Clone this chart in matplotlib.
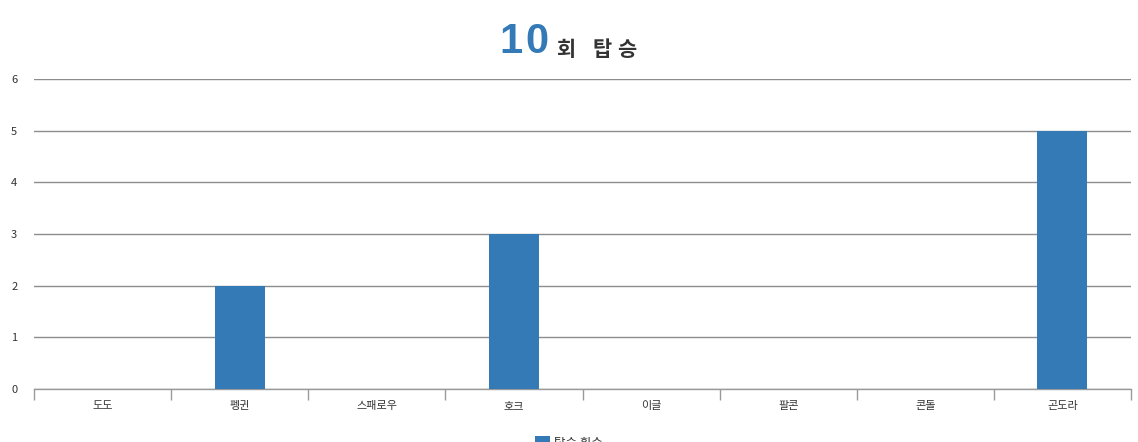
import matplotlib
matplotlib.use("Agg")
import matplotlib.pyplot as plt
from matplotlib.patches import Patch
import numpy as np

plt.rcParams['font.family'] = ['Noto Sans CJK KR', 'DejaVu Sans']

categories = ['도도', '펭귄', '스패로우', '호크', '이글', '팔콘', '콘돌', '곤도라']
rides = [0, 2, 0, 3, 0, 0, 0, 5]
series_name = '탑승 횟수'
title_count = '10'
title_rest = '회 탑승'

BLUE = '#337ab7'
TEXT = '#333333'

fig = plt.figure(figsize=(11.38, 4.42), dpi=100)
W, H = 1138, 442
ax = fig.add_axes([34 / W, 53 / H, (1131 - 34) / W, (389 - 79) / H])

x = np.arange(len(categories))
ax.bar(x, rides, width=0.365, color=BLUE, zorder=3)

ax.set_xlim(-0.5, len(categories) - 0.5)
ax.set_ylim(0, 6)
ax.set_yticks(range(0, 7))
ax.yaxis.grid(True, color='#8c8c8c', linewidth=1)
ax.set_axisbelow(True)

for s in ['top', 'right', 'left']:
    ax.spines[s].set_visible(False)
ax.spines['bottom'].set_color('#9a9a9a')
ax.spines['bottom'].set_linewidth(1)

ax.set_xticks(x)
ax.set_xticklabels(categories)
ax.set_xticks(np.arange(-0.5, len(categories)), minor=True)
ax.tick_params(axis='x', which='major', length=0, pad=9, labelsize=8, labelcolor=TEXT)
ax.tick_params(axis='x', which='minor', length=8, color='#9a9a9a', width=1)
ax.tick_params(axis='y', length=0, labelsize=8, labelcolor=TEXT)
for lab in ax.get_yticklabels():
    lab.set_horizontalalignment('left')
ax.yaxis.set_tick_params(pad=16.5)

# Title: large blue count (letter-spaced), then spaced Korean text
tfont = ['Liberation Sans', 'DejaVu Sans']
base_y = 1 - 53 / H
for ch, px in zip(title_count, [499, 525]):
    fig.text(px / W, base_y, ch, color=BLUE, fontsize=30, fontweight='bold',
             ha='left', va='baseline', family=tfont)
rest_chars = [c for c in title_rest if c != ' ']
for ch, px in zip(rest_chars, [556, 593, 617]):
    fig.text(px / W, 1 - 56 / H, ch, color=TEXT, fontsize=15, fontweight='bold',
             ha='left', va='baseline')

# Legend (partially cut off at bottom)
fig.legend(handles=[Patch(facecolor=BLUE, edgecolor='none')], labels=[series_name],
           loc='center', bbox_to_anchor=(0.5, -1 / H), frameon=False, fontsize=9,
           handlelength=1.2, handleheight=1.2, handletextpad=0.35, labelcolor=TEXT)

fig.savefig('out.png', dpi=100)
